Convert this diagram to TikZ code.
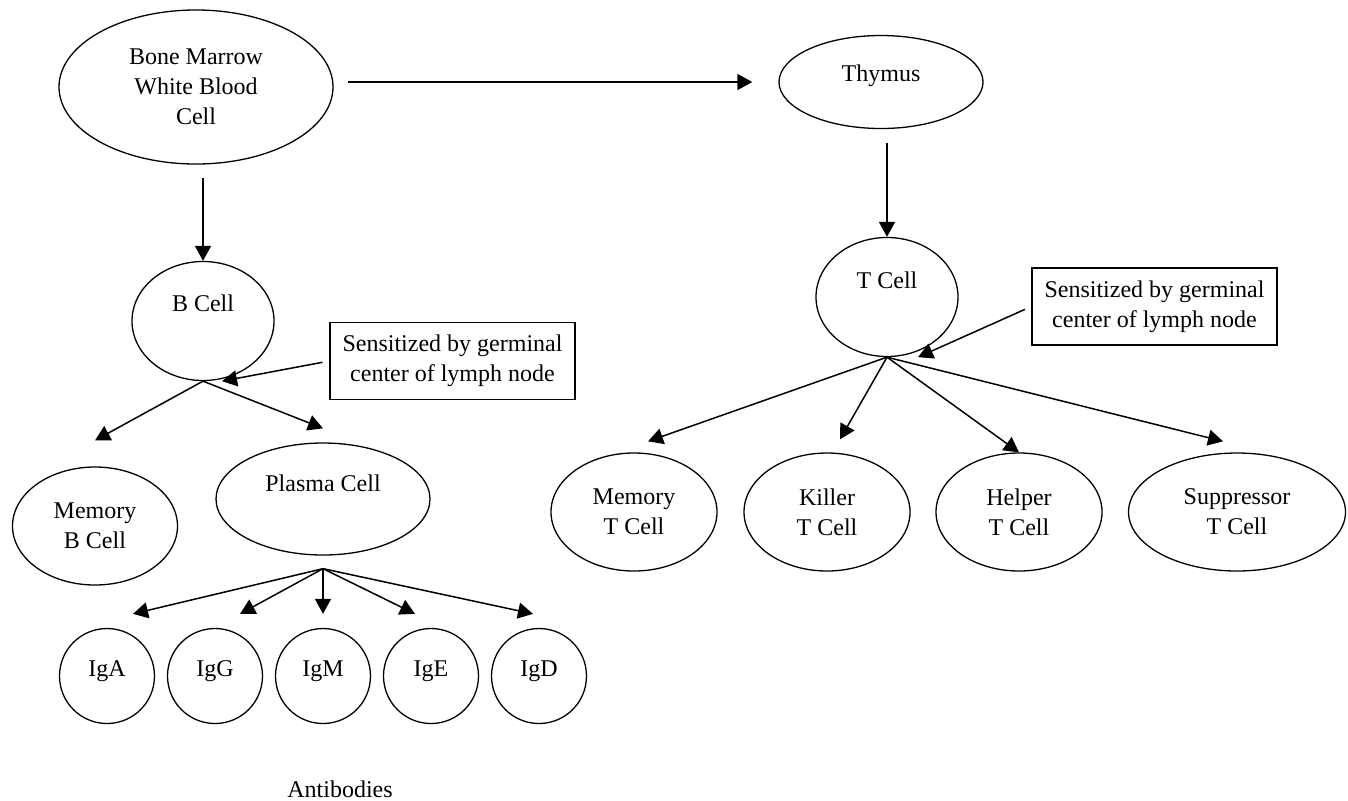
\documentclass[tikz,border=0pt]{standalone}
\usepackage{fontspec}
\setmainfont{Liberation Serif}
\usetikzlibrary{shapes.geometric,arrows.meta}
\tikzset{
every node/.style=
    {font=\fontsize{12}{15}\selectfont,
    align=center,
    inner sep=0pt
    },
cell/.style=
    {ellipse,
    draw,
    line width=0.65pt
    },
note/.style=
    {rectangle,
    draw,
    line width=0.65pt,
    minimum width=122.5pt,
    minimum height=38.5pt
    },
dims/.style 2 args=
    {minimum width=#1,
    minimum height=#2
    },
lift/.style=
    {text height=8pt,
    text depth=#1
    },
link/.style=
    {draw,
    line width=0.75pt,
    -{Triangle[length=7.5pt,width=8pt]}
    }}

\begin{document}
\begin{tikzpicture}[x=0.5pt,y=-0.5pt]
\useasboundingbox (0,0) rectangle (1348,800);
\node[cell,dims={137pt}{77pt}] (marrow) at (196,87) {Bone Marrow\\White Blood\\Cell};
\node[cell,dims={102pt}{46.5pt},lift=9pt] (thymus) at (881,82) {Thymus};
\node[cell,dims={71pt}{59.5pt},lift=18pt] (bcell) at (203,321) {B Cell};
\node[cell,dims={71pt}{59.5pt},lift=17pt] (tcell) at (887,297) {T Cell};
\node[cell,dims={82.5pt}{59pt}] (memb) at (95,526) {Memory\\B Cell};
\node[cell,dims={107pt}{56pt},lift=16pt] (plasma) at (323,499) {Plasma Cell};
\foreach \name [count=\i from 0] in {IgA,IgG,IgM,IgE,IgD}
    \node[cell,dims={47.5pt}{47.5pt},lift=8pt] (\name) at (107+108*\i,676) {\name};
\node[cell,dims={83pt}{59pt}] (memt) at (634,512) {Memory\\T Cell};
\node[cell,dims={83pt}{59pt}] (killer) at (827,512) {Killer\\T Cell};
\node[cell,dims={83pt}{59pt}] (helper) at (1019,512) {Helper\\T Cell};
\node[cell,dims={108.5pt}{59pt}] (supp) at (1237,512) {Suppressor\\T Cell};
\node[note] (sensb) at (452.5,361) {Sensitized by germinal\\center of lymph node};
\node[note] (senst) at (1154.5,306.5) {Sensitized by germinal\\center of lymph node};
\node (antibodies) at (340,789) {Antibodies};

\coordinate (bsplit) at (bcell.south);
\coordinate (psplit) at ([yshift=-6.5pt]plasma.south);
\coordinate (tsplit) at (tcell.south);

\draw[link,shorten <=7pt,shorten >=13pt] (marrow.east |- thymus.west) -- (thymus.west);
\draw[link,shorten <=6.5pt] (marrow.south -| bcell.north) -- (bcell.north);
\draw[link,shorten <=7pt] (thymus.south -| tcell.north) -- (tcell.north);
\draw[link] (bsplit) -- ([yshift=13pt]memb.north);
\draw[link] (bsplit) -- ([yshift=7pt]plasma.north);
\draw[link,shorten <=3.5pt] (sensb.west) -- ([xshift=9.5pt]bcell.south);
\foreach \name/\dx in {IgA/13pt,IgG/12.5pt,IgM/0pt,IgE/-8pt,IgD/-3pt}
    \draw[link] (psplit) -- ([shift={(\dx,7pt)}]\name.north);
\draw[link,shorten <=3.5pt] (senst.west) -- ([xshift=15.5pt]tcell.south);
\foreach \name/\dx/\dy in {memt/7pt/5.5pt,killer/6.5pt/6.5pt,helper/0pt/0pt,supp/-7pt/5.5pt}
    \draw[link] (tsplit) -- ([shift={(\dx,\dy)}]\name.north);
\end{tikzpicture}
\end{document}
